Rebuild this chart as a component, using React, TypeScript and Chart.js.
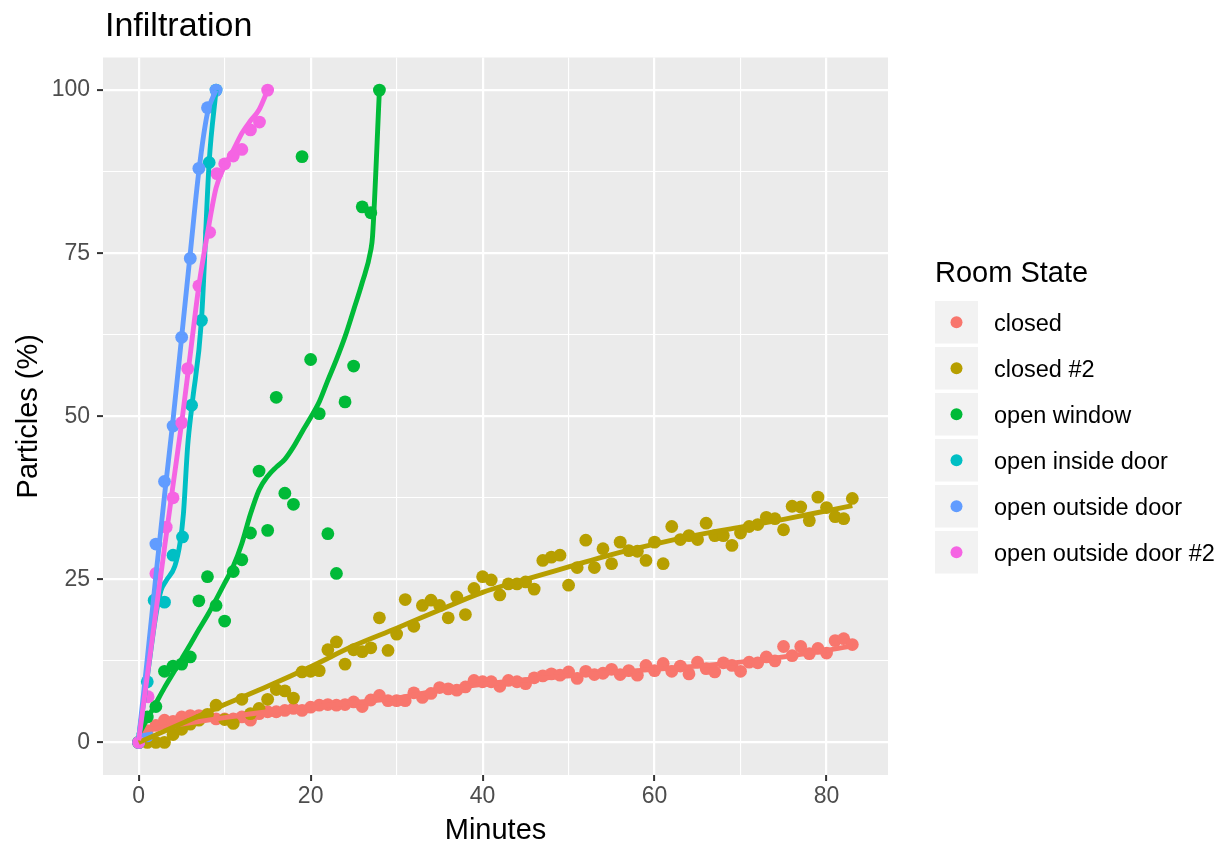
import React, { useEffect, useRef } from "react";
import { Chart, registerables } from "chart.js";

Chart.register(...registerables);

// ---------- text ----------
const TITLE = "Infiltration";
const X_TITLE = "Minutes";
const Y_TITLE = "Particles (%)";
const LEGEND_TITLE = "Room State";

const SERIES_NAMES = [
  "closed",
  "closed #2",
  "open window",
  "open inside door",
  "open outside door",
  "open outside door #2",
];
const SERIES_COLORS = ["#F8766D", "#B79F00", "#00BA38", "#00BFC4", "#619CFF", "#F564E3"];

const X_MAJOR_TICKS = [0, 20, 40, 60, 80];
const Y_MAJOR_TICKS = [0, 25, 50, 75, 100];

// ---------- observations ----------
const CLOSED_MIN = [
  0, 1, 2, 3, 4, 5, 6, 7, 8, 9, 10, 11, 12, 13, 14, 15, 16, 17, 18, 19, 20,
  21, 22, 23, 24, 25, 26, 27, 28, 29, 30, 31, 32, 33, 34, 35, 36, 37, 38, 39, 40,
  41, 42, 43, 44, 45, 46, 47, 48, 49, 50, 51, 52, 53, 54, 55, 56, 57, 58, 59, 60,
  61, 62, 63, 64, 65, 66, 67, 68, 69, 70, 71, 72, 73, 74, 75, 76, 77, 78, 79, 80,
  81, 82, 83,
];
const CLOSED = [
  0, 1.8, 2.6, 3.4, 3.2, 3.9, 4.1, 4.1, 4.1, 3.6, 3.6, 3.6, 3.9, 3.4, 4.4, 4.7, 4.7, 4.9, 5.2, 4.9, 5.4,
  5.7, 5.8, 5.7, 5.8, 6.2, 5.5, 6.5, 7.2, 6.4, 6.4, 6.4, 7.6, 6.9, 7.5, 8.4, 8.2, 8.0, 8.5, 9.5, 9.3,
  9.3, 8.6, 9.5, 9.3, 9.0, 9.9, 10.2, 10.5, 10.3, 10.8, 9.8, 10.9, 10.4, 10.6, 11.2, 10.4, 11.0, 10.3, 11.8, 11.0,
  12.1, 10.9, 11.7, 10.5, 12.3, 11.3, 10.8, 12.2, 11.8, 10.9, 12.3, 12.2, 13.1, 12.5, 14.7, 13.3, 14.7, 13.6, 14.4, 13.7,
  15.6, 15.9, 15.0,
];
const CLOSED2 = [
  0, 0, 0, 0, 1.2, 2.0, 2.8, 3.4, 4.3, 5.7, 3.5, 2.9, 6.6, 4.4, 5.2, 6.6, 8.1, 7.9, 6.8, 10.8, 10.9,
  11.0, 14.2, 15.4, 12.0, 14.2, 13.9, 14.5, 19.1, 14.1, 16.6, 21.9, 17.8, 21.0, 21.8, 21.0, 19.1, 22.3, 19.6, 23.6, 25.4,
  24.9, 22.6, 24.3, 24.3, 24.6, 23.5, 27.9, 28.4, 28.7, 24.1, 26.8, 31.0, 26.8, 29.7, 27.4, 30.7, 29.4, 29.3, 27.9, 30.7,
  27.4, 33.1, 31.1, 31.7, 31.1, 33.6, 31.7, 31.7, 30.2, 32.1, 33.1, 33.4, 34.5, 34.3, 32.6, 36.2, 36.1, 34.0, 37.6, 36.0,
  34.6, 34.3, 37.4,
];
const WINDOW_MIN = [0, 1, 2, 3, 4, 5, 6, 7, 8, 9, 10, 11, 12, 13, 14, 15, 16, 17, 18, 19, 20, 21, 22, 23, 24, 25, 26, 27, 28];
const WINDOW = [
  0, 3.9, 5.5, 10.9, 11.7, 12.0, 13.1, 21.7, 25.4, 21.0, 18.6, 26.2, 28.0, 32.1, 41.6, 32.5, 52.9, 38.2, 36.5, 89.8,
  58.7, 50.4, 32.0, 25.9, 52.2, 57.7, 82.1, 81.2, 100,
];
const INSIDE_MIN = [0, 1, 1.8, 3, 4, 5.1, 6.15, 7.3, 8.2, 9];
const INSIDE = [0, 9.3, 21.8, 21.5, 28.7, 31.5, 51.7, 64.7, 88.9, 100];
const OUTSIDE_MIN = [0, 1, 2, 3, 4, 5, 6, 7, 8, 9];
const OUTSIDE = [0, 1.0, 30.4, 40.0, 48.5, 62.1, 74.2, 88.0, 97.3, 100];
const OUTSIDE2_MIN = [0, 1.1, 2, 3.2, 4, 5, 5.7, 7, 8.25, 9.1, 10, 11, 12, 13, 14.05, 15];
const OUTSIDE2 = [0, 7.0, 25.9, 33.0, 37.5, 49.0, 57.3, 70.0, 78.2, 87.2, 88.7, 89.9, 90.9, 93.9, 95.1, 100];

// ---------- smoothed curves ----------
const CLOSED_FIT_MIN = [0, 5, 10, 15, 20, 25, 30, 35, 40, 45, 50, 55, 60, 65, 70, 75, 80, 83];
const CLOSED_FIT = [1.7, 2.8, 3.8, 4.7, 5.4, 6.1, 6.8, 8.0, 8.9, 9.6, 10.2, 10.7, 11.2, 11.7, 12.3, 13.1, 14.1, 14.8];
const CLOSED2_FIT_MIN = [0, 5, 10, 15, 20, 25, 30, 35, 40, 45, 50, 55, 60, 65, 70, 75, 80, 83];
const CLOSED2_FIT = [0, 2.9, 5.8, 8.6, 11.6, 14.8, 17.5, 20.3, 23.0, 25.0, 26.9, 28.8, 30.4, 31.8, 33.0, 34.2, 35.5, 36.3];
const WINDOW_FIT_MIN = [0, 1, 2, 3, 4, 5, 6, 7, 8, 9, 10, 11, 12, 13, 14, 15, 16, 17, 18, 19, 20, 21, 22, 23, 24, 25, 26, 27, 27.2, 28];
const WINDOW_FIT = [
  1.2, 3.6, 6.0, 8.4, 10.6, 12.8, 15.0, 17.3, 19.5, 21.9, 24.4, 27.0, 30.5, 35.0, 38.7, 40.8, 42.2, 43.4, 45.3, 47.6,
  49.8, 52.2, 55.5, 58.7, 62.2, 66.3, 70.5, 75.5, 77.6, 100,
];
const INSIDE_FIT_MIN = [0, 1, 2, 2.6, 3.2, 4.2, 4.8, 5.2, 5.7, 6.2, 7.3, 8.2, 9];
const INSIDE_FIT = [0.8, 10.0, 19.5, 23.3, 24.8, 27.0, 30.5, 35.0, 45.5, 51.7, 64.7, 89.0, 100];
const OUTSIDE_FIT_MIN = [0, 1, 2, 3, 4, 5, 6, 7, 8, 9];
const OUTSIDE_FIT = [0.6, 12.8, 25.5, 37.8, 49.5, 62.2, 75.0, 87.6, 96.5, 100];
const OUTSIDE2_FIT_MIN = [0, 1, 2, 3, 4, 5, 6, 7, 8, 9, 10, 11, 12, 13, 14, 15];
const OUTSIDE2_FIT = [0.3, 10.2, 20.0, 29.8, 39.5, 49.0, 59.5, 70.0, 78.0, 85.0, 88.4, 90.8, 93.4, 95.3, 97.0, 100];

const POINT_SERIES = [
  [CLOSED_MIN, CLOSED],
  [CLOSED_MIN, CLOSED2],
  [WINDOW_MIN, WINDOW],
  [INSIDE_MIN, INSIDE],
  [OUTSIDE_MIN, OUTSIDE],
  [OUTSIDE2_MIN, OUTSIDE2],
];
const FIT_SERIES = [
  [CLOSED_FIT_MIN, CLOSED_FIT],
  [CLOSED2_FIT_MIN, CLOSED2_FIT],
  [WINDOW_FIT_MIN, WINDOW_FIT],
  [INSIDE_FIT_MIN, INSIDE_FIT],
  [OUTSIDE_FIT_MIN, OUTSIDE_FIT],
  [OUTSIDE2_FIT_MIN, OUTSIDE2_FIT],
];

const FONT = '"Liberation Sans", Arial, Helvetica, sans-serif';

const toXY = (xs: number[], ys: number[]) => xs.map((x, i) => ({ x, y: ys[i] }));

const ggPlugin = {
  id: "ggDecor",
  beforeDraw(chart: any) {
    const { ctx, chartArea: a } = chart;
    ctx.save();
    ctx.fillStyle = "#FFFFFF";
    ctx.fillRect(0, 0, chart.width, chart.height);
    ctx.fillStyle = "#EBEBEB";
    ctx.fillRect(a.left, a.top, a.right - a.left, a.bottom - a.top);
    ctx.restore();
  },
  afterDraw(chart: any) {
    const { ctx, chartArea: a } = chart;
    ctx.save();
    ctx.fillStyle = "#000000";
    ctx.textBaseline = "alphabetic";

    // plot title
    ctx.font = `34px ${FONT}`;
    ctx.textAlign = "left";
    ctx.fillText(TITLE, a.left + 2, 36);

    // axis titles
    ctx.font = `29px ${FONT}`;
    ctx.textAlign = "center";
    ctx.fillText(X_TITLE, (a.left + a.right) / 2, 839);
    ctx.save();
    ctx.translate(37, (a.top + a.bottom) / 2);
    ctx.rotate(-Math.PI / 2);
    ctx.fillText(Y_TITLE, 0, 0);
    ctx.restore();

    // legend
    ctx.textAlign = "left";
    ctx.fillText(LEGEND_TITLE, 935, 282);
    const pointSets = chart.data.datasets.filter((d: any) => d.type === "scatter");
    ctx.font = `23.5px ${FONT}`;
    pointSets.forEach((d: any, i: number) => {
      const top = 301 + i * 46;
      ctx.fillStyle = "#F2F2F2";
      ctx.fillRect(935, top, 43, 42.5);
      const cy = top + 21.25;
      ctx.fillStyle = d.backgroundColor;
      ctx.beginPath();
      ctx.arc(956.5, cy, 6, 0, Math.PI * 2);
      ctx.fill();
      ctx.fillStyle = "#000000";
      ctx.fillText(d.label, 994, cy + 8.5);
    });
    ctx.restore();
  },
};

export default function App() {
  const ref = useRef<HTMLCanvasElement | null>(null);

  useEffect(() => {
    if (!ref.current) return;
    const datasets: any[] = [];
    POINT_SERIES.forEach(([xs, ys], i) => {
      datasets.push({
        type: "scatter",
        label: SERIES_NAMES[i],
        data: toXY(xs, ys),
        backgroundColor: SERIES_COLORS[i],
        borderColor: SERIES_COLORS[i],
        pointRadius: 6.4,
        pointHoverRadius: 6.4,
        pointBorderWidth: 0,
        order: 200 - i,
      });
    });
    FIT_SERIES.forEach(([xs, ys], i) => {
      datasets.push({
        type: "line",
        label: SERIES_NAMES[i] + " (smooth)",
        data: toXY(xs, ys),
        borderColor: SERIES_COLORS[i],
        backgroundColor: SERIES_COLORS[i],
        borderWidth: 4.9,
        pointRadius: 0,
        pointHoverRadius: 0,
        fill: false,
        showLine: true,
        cubicInterpolationMode: "monotone",
        borderCapStyle: "butt",
        borderJoinStyle: "round",
        order: 100 - i,
      });
    });

    const gridWidth = (major: number[]) => (c: any) =>
      c.tick && major.includes(c.tick.value) ? 2.2 : 1.1;
    const tickColor = (major: number[]) => (c: any) =>
      c.tick && major.includes(c.tick.value) ? "#333333" : "rgba(0,0,0,0)";

    const chart = new Chart(ref.current, {
      type: "scatter",
      data: { datasets },
      plugins: [ggPlugin],
      options: {
        animation: false,
        responsive: false,
        events: [],
        layout: { padding: { left: 0, top: 57.5, right: 342, bottom: 0 } },
        plugins: {
          legend: { display: false },
          tooltip: { enabled: false },
          title: { display: false },
        },
        scales: {
          x: {
            type: "linear",
            min: -4.15,
            max: 87.15,
            afterFit: (s: any) => {
              s.height = 71;
            },
            border: { display: false },
            grid: {
              color: "#FFFFFF",
              lineWidth: gridWidth(X_MAJOR_TICKS),
              tickColor: tickColor(X_MAJOR_TICKS),
              tickWidth: 2,
              tickLength: 6,
              drawTicks: true,
            },
            ticks: {
              stepSize: 10,
              includeBounds: false,
              autoSkip: false,
              maxRotation: 0,
              padding: 2,
              color: "#4D4D4D",
              font: { family: FONT, size: 23 },
              callback: (v: any) => (X_MAJOR_TICKS.includes(Number(v)) ? String(v) : ""),
            },
          },
          y: {
            type: "linear",
            min: -5,
            max: 105,
            afterFit: (s: any) => {
              s.width = 103;
            },
            border: { display: false },
            grid: {
              color: "#FFFFFF",
              lineWidth: gridWidth(Y_MAJOR_TICKS),
              tickColor: tickColor(Y_MAJOR_TICKS),
              tickWidth: 2,
              tickLength: 6,
              drawTicks: true,
            },
            ticks: {
              stepSize: 12.5,
              includeBounds: false,
              autoSkip: false,
              padding: 7,
              color: "#4D4D4D",
              font: { family: FONT, size: 23 },
              callback: (v: any) => (Y_MAJOR_TICKS.includes(Number(v)) ? String(v) : ""),
            },
          },
        },
      } as any,
    });
    return () => chart.destroy();
  }, []);

  return (
    <div style={{ position: "fixed", left: 0, top: 0, width: 1230, height: 846, background: "#FFFFFF" }}>
      <canvas ref={ref} width={1230} height={846} style={{ display: "block" }} />
    </div>
  );
}
